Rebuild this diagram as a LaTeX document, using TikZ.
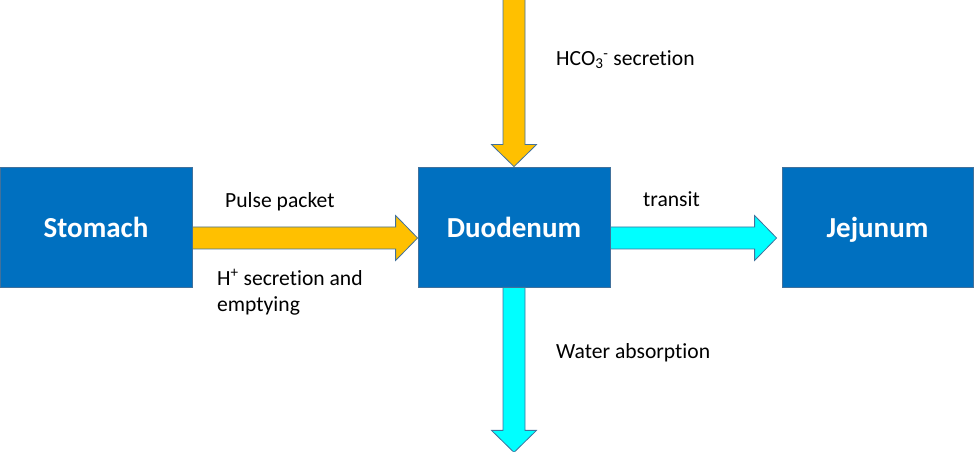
\documentclass[tikz,border=0pt]{standalone}
\usepackage{fontspec}
\setmainfont{Carlito}[Ligatures=NoCommon]
\usetikzlibrary{calc}

\definecolor{boxblue}{HTML}{0070C0}
\definecolor{edgeblue}{HTML}{41719C}
\definecolor{acid}{HTML}{FFC000}
\definecolor{flow}{HTML}{00FFFF}

\begin{document}
\begin{tikzpicture}[x=1pt,y=1pt,node distance=418pt,
  main node/.style={rectangle,fill=boxblue,draw=edgeblue,line width=0.8pt,
  text=white,font=\fontsize{29}{35}\selectfont\bfseries,text depth=0pt,
  minimum width=192pt,minimum height=120pt},
  note/.style={anchor=west,align=left,inner sep=0pt,
  font=\fontsize{21.6}{26}\selectfont},
  fat/.style={draw=edgeblue,line width=0.8pt,
  to path={let \p1=(\tikztostart), \p2=(\tikztotarget),
    \n1={atan2(\y2-\y1,\x2-\x1)}, \n2={veclen(\x2-\x1,\y2-\y1)} in
    ([shift={(\p1)},rotate=\n1]0,11) -- ([shift={(\p1)},rotate=\n1]\n2-22,11)
    -- ([shift={(\p1)},rotate=\n1]\n2-22,22.5) -- ([shift={(\p1)},rotate=\n1]\n2,0)
    -- ([shift={(\p1)},rotate=\n1]\n2-22,-22.5) -- ([shift={(\p1)},rotate=\n1]\n2-22,-11)
    -- ([shift={(\p1)},rotate=\n1]0,-11) -- cycle}}]

  \useasboundingbox (0,0) rectangle (974,452);

  \node[main node] (D) at (514,225) {Duodenum};
  \node[main node] (S) [left of=D] {Stomach};
  \node[main node] (J) [node distance=363.5pt,right of=D,minimum width=191pt] {Jejunum};

  %free ends of the vertical arrows
  \coordinate (HCO) at ([yshift=167]D.north);
  \coordinate (out) at ([yshift=-165]D.south);

  %stomach emptying into the duodenum
  \path[fat,fill=acid] ([yshift=-11]S.east) to ([yshift=-11]D.west);
  %bicarbonate coming in from above
  \path[fat,fill=acid] (HCO) to (D.north);
  %transit on to the jejunum
  \path[fat,fill=flow] ([yshift=-11]D.east) to ([shift={(-5,-11)}]J.west);
  %water leaving downwards
  \path[fat,fill=flow] (D.south) to (out);

  \node[note] (PP) at (225,250) {Pulse packet};
  \node[note] (HS) at (217,160) {H\textsuperscript{+} secretion and\\emptying};
  \node[note] (HC) at (556,392) {HCO\textsubscript{3}\textsuperscript{-} secretion};
  \node[note] (TR) at (643,253) {transit};
  \node[note] (WA) at (556,99) {Water absorption};

\end{tikzpicture}
\end{document}
